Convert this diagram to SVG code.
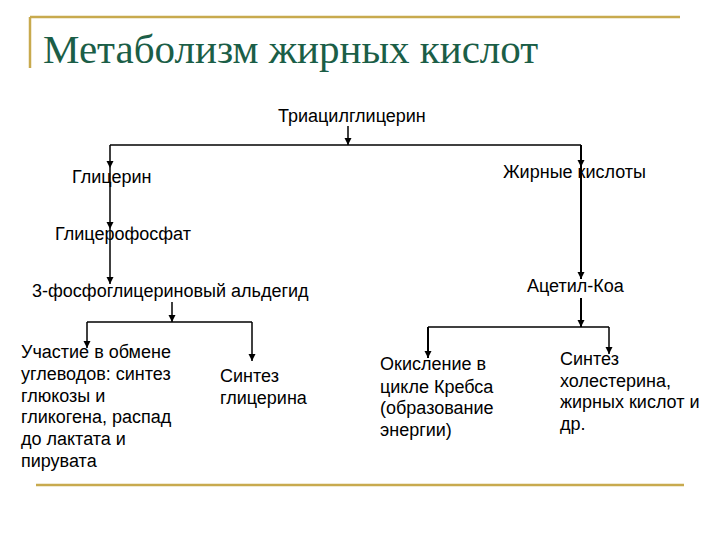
<svg xmlns="http://www.w3.org/2000/svg" width="720" height="540" viewBox="0 0 720 540">
<style>
.t{font-family:"Liberation Sans",Arial,sans-serif;font-size:18px;fill:#000}
.title{font-family:"Liberation Serif","Times New Roman",serif;font-size:41px;fill:#1b5e47}
.c{stroke:#000;stroke-width:1.5;fill:none}
.a{stroke:#000;stroke-width:1.5;fill:none;marker-end:url(#ah)}
.gold{stroke:#c8aa4e;stroke-width:2.5;fill:none}
</style>
<defs>
<marker id="ah" markerUnits="userSpaceOnUse" markerWidth="8" markerHeight="8" refX="7" refY="3.5" orient="auto">
<path d="M0,0 L7,3.5 L0,7 z" fill="#000"/>
</marker>
</defs>
<rect width="720" height="540" fill="#fff"/>
<g id="frame">
<line class="gold" x1="30" y1="17" x2="680" y2="17"/>
<line class="gold" x1="30" y1="17" x2="30" y2="68"/>
<line class="gold" x1="36" y1="485" x2="684" y2="485"/>
</g>
<text class="title" x="43" y="63">Метаболизм жирных кислот</text>
<g id="connectors">
<line class="a" x1="348" y1="126" x2="348" y2="145"/>
<line class="c" x1="110" y1="145" x2="581" y2="145"/>
<line class="a" x1="110" y1="145" x2="110" y2="168"/>
<line class="a" x1="110" y1="168" x2="110" y2="229"/>
<line class="a" x1="110" y1="229" x2="110" y2="284"/>
<line class="a" x1="172" y1="302" x2="172" y2="322"/>
<line class="c" x1="87" y1="322" x2="252" y2="322"/>
<line class="a" x1="87" y1="322" x2="87" y2="348"/>
<line class="a" x1="252" y1="322" x2="252" y2="361"/>
<line class="a" x1="581" y1="145" x2="581" y2="167" style="stroke-width:2"/>
<line class="a" x1="581" y1="167" x2="581" y2="279" style="stroke-width:2"/>
<line class="a" x1="581" y1="298" x2="581" y2="327" style="stroke-width:2"/>
<line class="c" x1="428" y1="327" x2="609" y2="327"/>
<line class="a" x1="428" y1="327" x2="428" y2="358" style="stroke-width:2"/>
<line class="a" x1="609" y1="327" x2="609" y2="354"/>
</g>
<g id="n_tag"><text class="t" x="278" y="122">Триацилглицерин</text></g>
<g id="n_glycerol"><text class="t" x="72" y="183">Глицерин</text></g>
<g id="n_fa"><text class="t" x="503" y="178">Жирные кислоты</text></g>
<g id="n_gp"><text class="t" x="55" y="240">Глицерофосфат</text></g>
<g id="n_acoa"><text class="t" x="527" y="292">Ацетил-Коа</text></g>
<g id="n_gald"><text class="t" x="32" y="297">3-фосфоглицериновый альдегид</text></g>
<g id="n_carb"><text class="t">
<tspan x="21" y="358">Участие в обмене</tspan>
<tspan x="21" y="380">углеводов: синтез</tspan>
<tspan x="21" y="402">глюкозы и</tspan>
<tspan x="21" y="423">гликогена, распад</tspan>
<tspan x="21" y="445">до лактата и</tspan>
<tspan x="21" y="467">пирувата</tspan>
</text></g>
<g id="n_glsyn"><text class="t">
<tspan x="220" y="382">Синтез</tspan>
<tspan x="220" y="404">глицерина</tspan>
</text></g>
<g id="n_krebs"><text class="t">
<tspan x="380" y="370">Окисление в</tspan>
<tspan x="380" y="393">цикле Кребса</tspan>
<tspan x="380" y="414">(образование</tspan>
<tspan x="380" y="436">энергии)</tspan>
</text></g>
<g id="n_chol"><text class="t">
<tspan x="560" y="365">Синтез</tspan>
<tspan x="560" y="387">холестерина,</tspan>
<tspan x="560" y="408">жирных кислот и</tspan>
<tspan x="560" y="430">др.</tspan>
</text></g>
</svg>
